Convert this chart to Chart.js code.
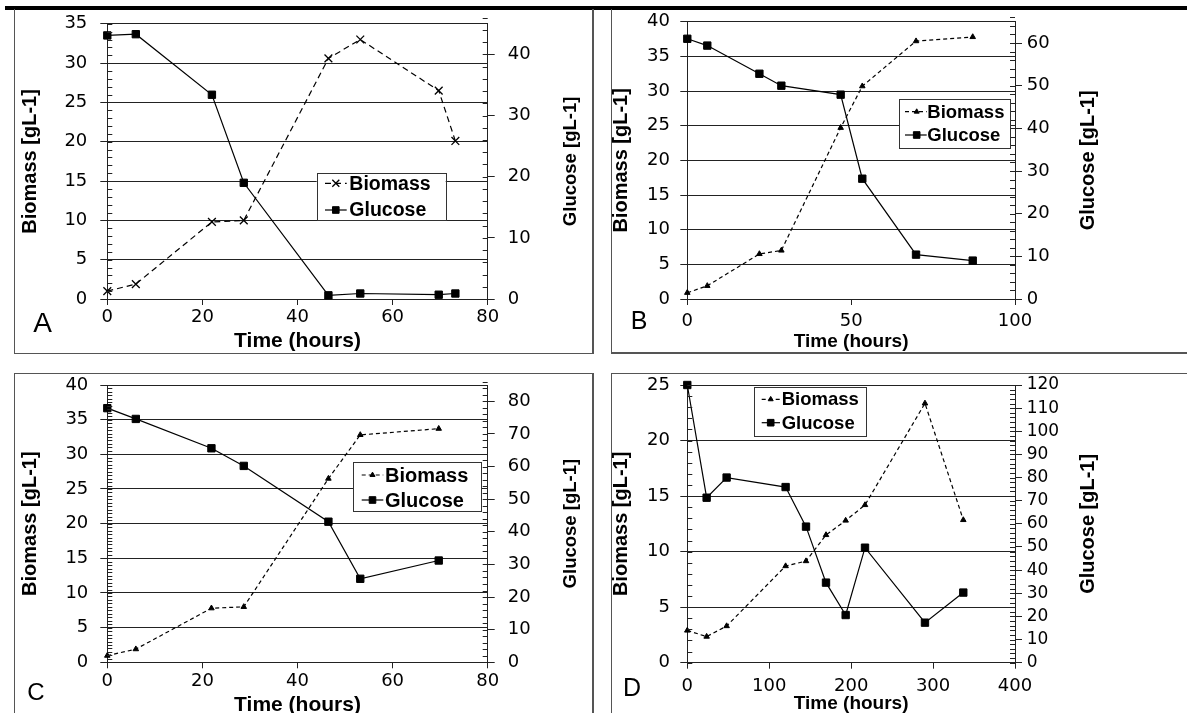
<!DOCTYPE html>
<html><head><meta charset="utf-8">
<script src="https://cdn.jsdelivr.net/npm/chart.js@4.4.1/dist/chart.umd.min.js"></script>
<style>
html,body{margin:0;padding:0;background:#fff;overflow:hidden;width:1187px;height:713px;position:relative}
canvas{position:absolute}
.ln{position:absolute;background:#555}
</style></head><body>
<div class="ln" style="left:5px;top:6px;width:1182px;height:4px;background:#000"></div>
<div class="ln" style="left:13.5px;top:9px;width:1.5px;height:345px"></div>
<div class="ln" style="left:592px;top:9px;width:1.5px;height:345px"></div>
<div class="ln" style="left:13.5px;top:352.8px;width:580px;height:1.5px"></div>
<div class="ln" style="left:610.8px;top:9px;width:1.5px;height:344px"></div>
<div class="ln" style="left:610.8px;top:352px;width:577px;height:1.5px"></div>
<div class="ln" style="left:13.5px;top:372.5px;width:580px;height:1.5px"></div>
<div class="ln" style="left:13.5px;top:372.5px;width:1.5px;height:341px"></div>
<div class="ln" style="left:592px;top:372.5px;width:1.5px;height:341px"></div>
<div class="ln" style="left:610.8px;top:372.5px;width:577px;height:1.5px"></div>
<div class="ln" style="left:610.8px;top:372.5px;width:1.5px;height:341px"></div>
<canvas id="cA"></canvas>
<canvas id="cB"></canvas>
<canvas id="cC"></canvas>
<canvas id="cD"></canvas>
<script>
// ---------------- DATA ----------------
const timeA    = [0, 6, 22, 28.7, 46.5, 53.2, 69.7, 73.2];
const biomassA = [1.0, 1.9, 9.8, 10.0, 30.6, 33.0, 26.5, 20.1];
const glucoseA = [43.1, 43.3, 33.4, 19.0, 0.6, 0.9, 0.7, 0.9];

const timeB    = [0, 6.1, 22, 28.7, 46.8, 53.4, 69.8, 87.1];
const biomassB = [0.9, 1.9, 6.5, 7.0, 24.7, 30.7, 37.2, 37.8];
const glucoseB = [61.0, 59.4, 52.8, 50.0, 47.9, 28.2, 10.4, 9.0];

const timeC    = [0, 6, 21.9, 28.7, 46.5, 53.2, 69.7];
const biomassC = [0.96, 1.9, 7.8, 8.0, 26.5, 32.8, 33.7];
const glucoseC = [77.9, 74.6, 65.6, 60.2, 43.1, 25.6, 31.2];

const timeD    = [0, 23.6, 48, 120, 144.9, 169.3, 193.3, 216.9, 290.1, 336.9];
const biomassD = [2.9, 2.35, 3.3, 8.7, 9.15, 11.5, 12.8, 14.2, 23.35, 12.85];
const glucoseD = [120, 71.3, 80.0, 75.9, 58.8, 34.6, 20.6, 49.7, 17.3, 30.3];

const seriesNames = ['Biomass', 'Glucose'];
const panelLetters = ['A', 'B', 'C', 'D'];
const xTitle = 'Time (hours)';
const yTitle = 'Biomass [gL-1]';
const y1Title = 'Glucose [gL-1]';

// axis ranges (max, step) per panel
const xRangeA = [80, 20],  bioRangeA = [35, 5], gluRangeA = [45, 10];
const xRangeB = [100, 50], bioRangeB = [40, 5], gluRangeB = [65, 10];
const xRangeC = [80, 20],  bioRangeC = [40, 5], gluRangeC = [85, 10];
const xRangeD = [400, 100], bioRangeD = [25, 5], gluRangeD = [120, 10];

// ---------------- LAYOUT / STYLE ----------------
const FAM = '"Liberation Sans", Arial, sans-serif';
const TICKFAM = '"DejaVu Sans", sans-serif';

const decor = {
  id: 'decor',
  afterDraw(chart, args, o) {
    const ctx = chart.ctx, a = chart.chartArea;
    const ox = o.ox, oy = o.oy;
    ctx.save();
    ctx.strokeStyle = '#222'; ctx.lineWidth = 1; ctx.setLineDash([]);
    function minor(scale, step, x, dir) {
      const n = Math.round((scale.max - scale.min) / step);
      for (let i = 0; i <= n; i++) {
        const py = Math.round(scale.getPixelForValue(scale.min + i * step)) + 0.5;
        ctx.beginPath(); ctx.moveTo(x, py); ctx.lineTo(x + dir * 5, py); ctx.stroke();
      }
    }
    if (o.minorL) minor(chart.scales.y, o.minorL, a.left, 1);
    if (o.minorR) minor(chart.scales.y1, o.minorR, a.right, -1);
    // right title (reads bottom to top)
    ctx.fillStyle = '#000';
    ctx.save();
    ctx.translate(o.rtX - ox, (a.top + a.bottom) / 2);
    ctx.rotate(-Math.PI / 2);
    ctx.font = 'bold ' + o.rtSize + 'px ' + FAM;
    ctx.textAlign = 'center'; ctx.textBaseline = 'middle';
    ctx.fillText(o.rtText, 0, 0);
    ctx.restore();
    // legend
    const L = o.legend;
    ctx.fillStyle = '#fff';
    ctx.fillRect(L.x - ox, L.y - oy, L.w, L.h);
    ctx.strokeStyle = '#333'; ctx.lineWidth = 1;
    ctx.strokeRect(Math.round(L.x - ox) + 0.5, Math.round(L.y - oy) + 0.5, Math.round(L.w), Math.round(L.h));
    chart.data.datasets.forEach((ds, i) => {
      const ry = L.rows[i] - oy;
      ctx.strokeStyle = '#000'; ctx.lineWidth = 1.2;
      ctx.setLineDash(ds.borderDash || []);
      ctx.beginPath(); ctx.moveTo(L.s0 - ox, ry); ctx.lineTo(L.s1 - ox, ry); ctx.stroke();
      ctx.setLineDash([]);
      ctx.fillStyle = '#000'; ctx.strokeStyle = '#000'; ctx.lineWidth = ds.pointBorderWidth || 1;
      Chart.helpers.drawPoint(ctx, {pointStyle: ds.pointStyle, radius: ds.pointRadius * (L.mk || 0.9), rotation: 0, borderWidth: ds.pointBorderWidth || 1}, L.m - ox, ry);
      ctx.fillStyle = '#000';
      ctx.font = 'bold ' + L.size + 'px ' + FAM;
      ctx.textAlign = 'left'; ctx.textBaseline = 'middle';
      ctx.fillText(ds.label, L.tx - ox, ry + 1);
    });
    // panel letter
    ctx.fillStyle = '#000';
    ctx.font = o.letterSize + 'px ' + FAM;
    ctx.textAlign = 'center'; ctx.textBaseline = 'middle';
    ctx.fillText(o.letter, o.letterX - ox, o.letterY - oy);
    ctx.restore();
  }
};

function makeChart(id, P, time, bio, glu, xr, br, gr) {
  const cv = document.getElementById(id);
  cv.width = P.cv.w; cv.height = P.cv.h;
  cv.style.left = P.cv.x + 'px'; cv.style.top = P.cv.y + 'px';
  cv.style.width = P.cv.w + 'px'; cv.style.height = P.cv.h + 'px';
  const tickFont = {family: TICKFAM, size: 18};
  const gridCol = '#222';
  new Chart(cv, {
    type: 'line',
    data: {
      datasets: [
        {label: seriesNames[0], data: time.map((t, i) => ({x: t, y: bio[i]})), yAxisID: 'y',
         borderColor: '#000', backgroundColor: '#000', borderWidth: 1.2, borderDash: P.dash,
         pointStyle: P.bioStyle, pointRadius: P.bioR, pointBorderWidth: P.bioBW,
         pointBackgroundColor: '#000', pointBorderColor: '#000', tension: 0, clip: false, fill: false},
        {label: seriesNames[1], data: time.map((t, i) => ({x: t, y: glu[i]})), yAxisID: 'y1',
         borderColor: '#000', backgroundColor: '#000', borderWidth: 1.2,
         pointStyle: 'rect', pointRadius: 5.2, pointBorderWidth: 1,
         pointBackgroundColor: '#000', pointBorderColor: '#000', tension: 0, clip: false, fill: false}
      ]
    },
    options: {
      responsive: false, animation: false, events: [],
      layout: {padding: {left: 0, right: 0, top: P.area.t - P.cv.y, bottom: 0}},
      plugins: {
        legend: {display: false}, tooltip: {enabled: false},
        decor: Object.assign({ox: P.cv.x, oy: P.cv.y, rtText: y1Title}, P.decor)
      },
      scales: {
        x: {type: 'linear', position: 'bottom', min: 0, max: xr[0],
            ticks: {stepSize: xr[1], font: tickFont, color: '#000', padding: P.xPad, maxRotation: 0, autoSkip: false},
            grid: {drawOnChartArea: false, drawTicks: true, tickLength: 6, color: gridCol, lineWidth: 1},
            border: {display: true, color: gridCol, width: 1},
            title: {display: true, text: xTitle, color: '#000',
                    font: {family: FAM, size: P.xtSize, weight: 'bold', lineHeight: 1},
                    padding: {top: 0, bottom: P.xtPad}},
            afterFit(s) { s.height = P.cv.y + P.cv.h - P.area.b; }},
        y: {type: 'linear', position: 'left', min: 0, max: br[0],
            ticks: {stepSize: br[1], font: tickFont, color: '#000', padding: P.yPad, autoSkip: false},
            grid: {drawOnChartArea: true, drawTicks: true, tickLength: 7, color: gridCol, lineWidth: 1},
            border: {display: true, color: gridCol, width: 1},
            title: {display: true, text: yTitle, color: '#000',
                    font: {family: FAM, size: 20, weight: 'bold', lineHeight: 1},
                    padding: {top: P.ytPad, bottom: 0}},
            afterFit(s) { s.width = P.area.l - P.cv.x; }},
        y1: {type: 'linear', position: 'right', min: 0, max: gr[0],
            ticks: {stepSize: gr[1], includeBounds: false, font: {family: TICKFAM, size: P.y1Size || 18}, color: '#000', padding: P.y1Pad, autoSkip: false},
            grid: {drawOnChartArea: false, drawTicks: true, tickLength: 7, color: gridCol, lineWidth: 1},
            border: {display: true, color: gridCol, width: 1},
            afterFit(s) { s.width = P.cv.x + P.cv.w - P.area.r; }}
      }
    },
    plugins: [decor]
  });
}

const layoutA = {
  cv: {x: 0, y: 0, w: 593, h: 354}, area: {l: 107.3, r: 487.7, t: 22.3, b: 299},
  xPad: 1.7, yPad: 13, y1Pad: 13, xtSize: 21, xtPad: 1.8, ytPad: 20,
  dash: [6, 4], bioStyle: 'crossRot', bioR: 5.5, bioBW: 1.3,
  decor: {minorL: 1, minorR: 2, rtX: 570.8, rtSize: 18.5,
          legend: {x: 316.7, y: 172.7, w: 129, h: 47.3, rows: [183.3, 210], s0: 325, s1: 346.7, m: 335.8, tx: 349.3, size: 19.5},
          letter: panelLetters[0], letterX: 42.5, letterY: 324, letterSize: 28}
};
const layoutB = {
  cv: {x: 594, y: 0, w: 593, h: 354}, area: {l: 687.3, r: 1015, t: 21.7, b: 299},
  xPad: 5.9, yPad: 10.3, y1Pad: 4.7, xtSize: 19, xtPad: 2.8, ytPad: 17.3,
  dash: [4, 3], bioStyle: 'triangle', bioR: 3.2, bioBW: 1,
  decor: {minorL: 0, minorR: 2, rtX: 1088.3, rtSize: 20,
          legend: {x: 899.3, y: 99, w: 110.7, h: 49.3, rows: [111.7, 135], s0: 905, s1: 926.7, m: 916.7, tx: 927.3, size: 18.5},
          letter: panelLetters[1], letterX: 639, letterY: 322, letterSize: 25}
};
const layoutC = {
  cv: {x: 0, y: 360, w: 593, h: 360}, area: {l: 107.3, r: 487.7, t: 385, b: 662.3},
  xPad: 2.6, yPad: 12, y1Pad: 13, xtSize: 21, xtPad: 4.5, ytPad: 20,
  dash: [4, 3], bioStyle: 'triangle', bioR: 3.2, bioBW: 1,
  decor: {minorL: 0.5, minorR: 2, rtX: 570.8, rtSize: 18.5,
          legend: {x: 353.3, y: 462.3, w: 128.4, h: 49.4, rows: [475, 500], s0: 361.7, s1: 383.3, m: 372.5, tx: 385, size: 20},
          letter: panelLetters[2], letterX: 36, letterY: 693, letterSize: 24}
};
const layoutD = {
  cv: {x: 594, y: 360, w: 593, h: 360}, area: {l: 687.3, r: 1015, t: 385, b: 662.7},
  xPad: 7.2, yPad: 10.3, y1Pad: 4.7, y1Size: 17, xtSize: 19, xtPad: 6.5, ytPad: 17.3,
  dash: [4, 3], bioStyle: 'triangle', bioR: 3.2, bioBW: 1,
  decor: {minorL: 1, minorR: 2, rtX: 1088.3, rtSize: 20,
          legend: {x: 754, y: 386.7, w: 112, h: 49.3, rows: [399.3, 422.7], s0: 761.7, s1: 780, m: 770.7, tx: 781.7, size: 18.5},
          letter: panelLetters[3], letterX: 632, letterY: 689, letterSize: 25}
};

makeChart('cA', layoutA, timeA, biomassA, glucoseA, xRangeA, bioRangeA, gluRangeA);
makeChart('cB', layoutB, timeB, biomassB, glucoseB, xRangeB, bioRangeB, gluRangeB);
makeChart('cC', layoutC, timeC, biomassC, glucoseC, xRangeC, bioRangeC, gluRangeC);
makeChart('cD', layoutD, timeD, biomassD, glucoseD, xRangeD, bioRangeD, gluRangeD);
</script>
</body></html>
